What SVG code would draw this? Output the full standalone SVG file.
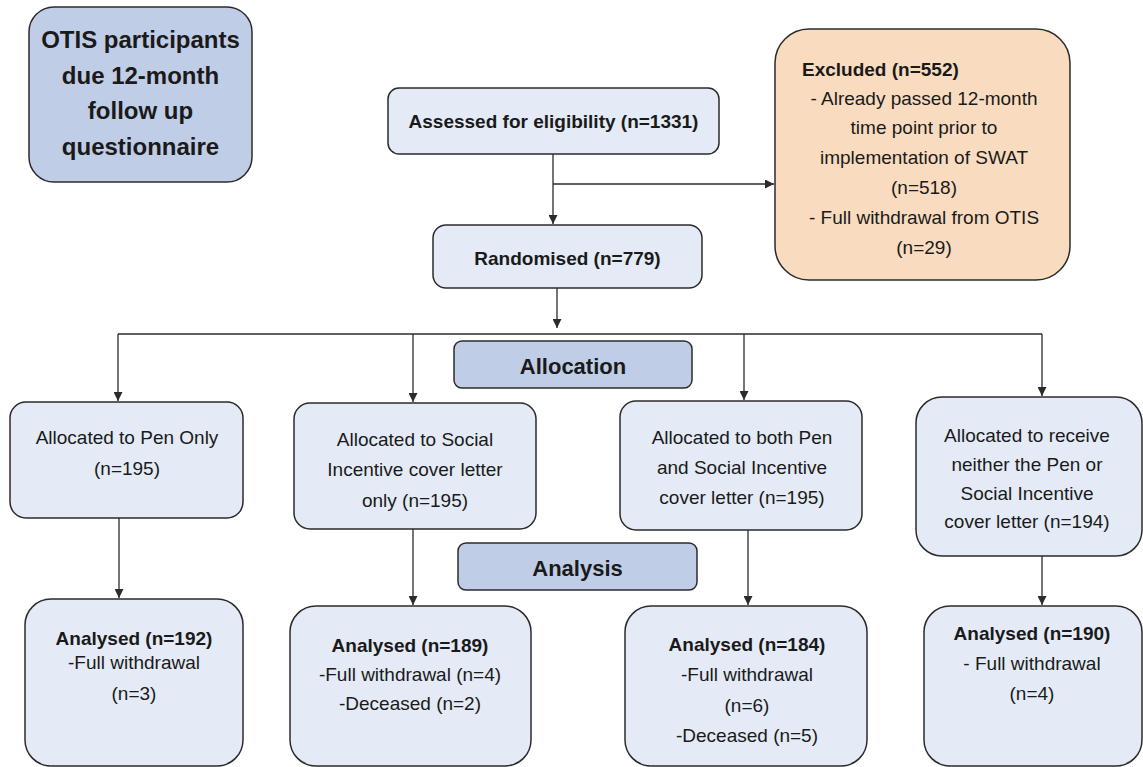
<svg xmlns="http://www.w3.org/2000/svg" width="1143" height="767" viewBox="0 0 1143 767">
<defs>
<style>
.lb{fill:#e4ebf6;stroke:#2b2b2b;stroke-width:1.5}
.db{fill:#c0cde6;stroke:#2b2b2b;stroke-width:1.5}
.ex{fill:#f9dcc0;stroke:#2b2b2b;stroke-width:1.5}
text{font-family:"Liberation Sans",Arial,Helvetica,sans-serif;fill:#1a1a1a;font-size:19px}
.c{text-anchor:middle}
.b{font-weight:bold}
.ln{fill:none;stroke:#2b2b2b;stroke-width:1.3}
</style>
<marker id="ah" viewBox="0 0 10 10" refX="10" refY="5" markerWidth="9" markerHeight="9" markerUnits="userSpaceOnUse" orient="auto">
<path d="M0,0 L10,5 L0,10 z" fill="#2b2b2b"/>
</marker>
</defs>
<rect width="1143" height="767" fill="#ffffff"/>

<g id="connectors">
<line class="ln" x1="553" y1="154" x2="553" y2="224" marker-end="url(#ah)"/>
<line class="ln" x1="553" y1="184" x2="774" y2="184" marker-end="url(#ah)"/>
<line class="ln" x1="557" y1="288" x2="557" y2="328" marker-end="url(#ah)"/>
<line class="ln" x1="118" y1="334" x2="1042" y2="334"/>
<line class="ln" x1="118" y1="334" x2="118" y2="401" marker-end="url(#ah)"/>
<line class="ln" x1="413" y1="334" x2="413" y2="402" marker-end="url(#ah)"/>
<line class="ln" x1="744" y1="334" x2="744" y2="400" marker-end="url(#ah)"/>
<line class="ln" x1="1042" y1="334" x2="1042" y2="396" marker-end="url(#ah)"/>
<line class="ln" x1="119" y1="518" x2="119" y2="598" marker-end="url(#ah)"/>
<line class="ln" x1="413" y1="529" x2="413" y2="605" marker-end="url(#ah)"/>
<line class="ln" x1="748" y1="530" x2="748" y2="605" marker-end="url(#ah)"/>
<line class="ln" x1="1042" y1="556" x2="1042" y2="605" marker-end="url(#ah)"/>
</g>

<g id="otis">
<rect class="db" x="29" y="7" width="223" height="175" rx="25"/>
<text class="c b" x="140.5" y="48" style="font-size:24px">OTIS participants</text>
<text class="c b" x="140.5" y="84" style="font-size:24px">due 12-month</text>
<text class="c b" x="140.5" y="119" style="font-size:24px">follow up</text>
<text class="c b" x="140.5" y="155" style="font-size:24px">questionnaire</text>
</g>

<g id="assessed">
<rect class="lb" x="388" y="88" width="331" height="66" rx="11"/>
<text class="c b" x="553.5" y="128">Assessed for eligibility (n=1331)</text>
</g>

<g id="excluded">
<rect class="ex" x="775" y="29" width="295" height="251" rx="34"/>
<text class="b" x="802" y="76">Excluded (n=552)</text>
<text class="c" x="924" y="105">- Already passed 12-month</text>
<text class="c" x="924" y="134">time point prior to</text>
<text class="c" x="924" y="164">implementation of SWAT</text>
<text class="c" x="924" y="194">(n=518)</text>
<text class="c" x="924" y="224">- Full withdrawal from OTIS</text>
<text class="c" x="924" y="254">(n=29)</text>
</g>

<g id="randomised">
<rect class="lb" x="433" y="225" width="269" height="63" rx="13"/>
<text class="c b" x="567.5" y="265">Randomised (n=779)</text>
</g>

<g id="allocation">
<rect class="db" x="454" y="341" width="238" height="47" rx="8"/>
<text class="c b" x="573" y="374" style="font-size:22px">Allocation</text>
</g>

<g id="analysis">
<rect class="db" x="458" y="543" width="239" height="47" rx="8"/>
<text class="c b" x="577.5" y="576" style="font-size:22px">Analysis</text>
</g>

<g id="pen">
<rect class="lb" x="10" y="402" width="233" height="116" rx="16"/>
<text class="c" x="127" y="444">Allocated to Pen Only</text>
<text class="c" x="127" y="475">(n=195)</text>
</g>

<g id="social">
<rect class="lb" x="294" y="403" width="242" height="126" rx="16"/>
<text class="c" x="415" y="446">Allocated to Social</text>
<text class="c" x="415" y="476">Incentive cover letter</text>
<text class="c" x="415" y="507">only (n=195)</text>
</g>

<g id="both">
<rect class="lb" x="620" y="401" width="242" height="129" rx="16"/>
<text class="c" x="742" y="444">Allocated to both Pen</text>
<text class="c" x="742" y="474">and Social Incentive</text>
<text class="c" x="742" y="504">cover letter (n=195)</text>
</g>

<g id="neither">
<rect class="lb" x="916" y="397" width="226" height="159" rx="26"/>
<text class="c" x="1027" y="442">Allocated to receive</text>
<text class="c" x="1027" y="471">neither the Pen or</text>
<text class="c" x="1027" y="500">Social Incentive</text>
<text class="c" x="1027" y="528">cover letter (n=194)</text>
</g>

<g id="analysed1">
<rect class="lb" x="25" y="599" width="218" height="167" rx="26"/>
<text class="c b" x="134" y="645">Analysed (n=192)</text>
<text class="c" x="134" y="669">-Full withdrawal</text>
<text class="c" x="134" y="700">(n=3)</text>
</g>

<g id="analysed2">
<rect class="lb" x="290" y="606" width="241" height="160" rx="26"/>
<text class="c b" x="410" y="652">Analysed (n=189)</text>
<text class="c" x="410" y="681">-Full withdrawal (n=4)</text>
<text class="c" x="410" y="710">-Deceased (n=2)</text>
</g>

<g id="analysed3">
<rect class="lb" x="625" y="606" width="242" height="160" rx="26"/>
<text class="c b" x="747" y="651">Analysed (n=184)</text>
<text class="c" x="747" y="681">-Full withdrawal</text>
<text class="c" x="747" y="712">(n=6)</text>
<text class="c" x="747" y="742">-Deceased (n=5)</text>
</g>

<g id="analysed4">
<rect class="lb" x="924" y="606" width="218" height="160" rx="26"/>
<text class="c b" x="1032" y="640">Analysed (n=190)</text>
<text class="c" x="1032" y="670">- Full withdrawal</text>
<text class="c" x="1032" y="700">(n=4)</text>
</g>
</svg>
